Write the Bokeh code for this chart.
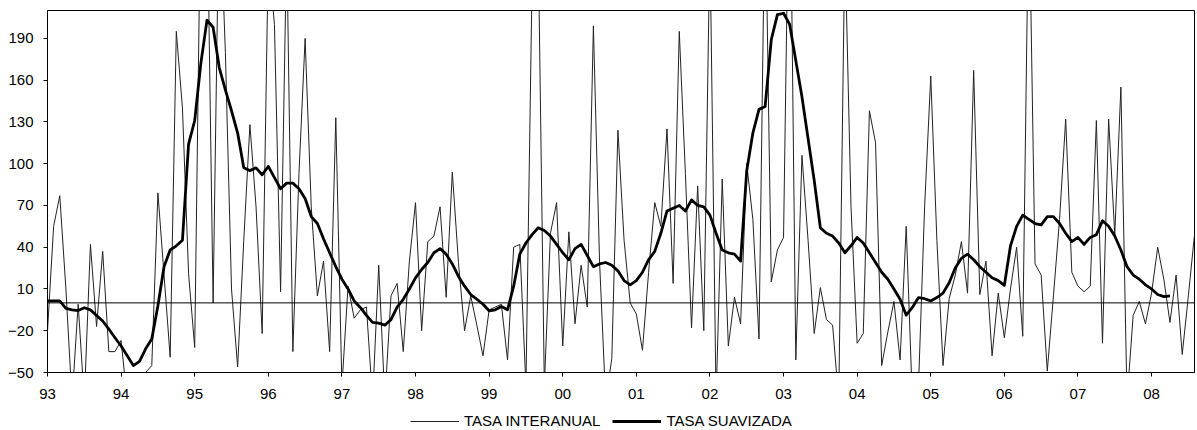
from bokeh.plotting import figure
from bokeh.layouts import column
from bokeh.models import ColumnDataSource, Range1d, FixedTicker, Span, Legend, LegendItem
from bokeh.embed import file_html
from bokeh.resources import INLINE

# Monthly data, Jan 1993 .. Aug 2008
year_labels = ["93", "94", "95", "96", "97", "98", "99", "00",
               "01", "02", "03", "04", "05", "06", "07", "08"]

tasa_interanual = [
    -20, 55, 77, 10, -70, -1, -70, 42, -17, 37, -35, -35,          # 93
    -27, -70, -60, -52, -50, -45, 79, 20, -39, 195, 140, 21,       # 94
    -32, 300, 300, 0, 300, 180, 10, -46, 45, 128, 69, -22,         # 95
    250, 200, 8, 260, -35, 93, 190, 69, 5, 30, -35, 133,           # 96
    -60, 12, -11, -5, -3, -70, 27, -70, 5, 14, -35, 30,            # 97
    72, -20, 44, 48, 69, 4, 94, 29, -20, 5, -16, -38,              # 98
    -5, -3, -1, -41, 40, 42, -60, 230, 260, -60, 50, 72,           # 99
    -31, 51, -15, 27, -3, 199, 30, -70, -40, 124, 45, 0,           # 00
    -8, -34, 22, 72, 55, 125, 14, 195, 93, -18, 84, -20,           # 01
    260, -70, 89, -31, 4, -15, 100, 60, -26, 300, 15, 38,          # 02
    47, 350, -41, 106, 45, -22, 11, -12, -16, -70, 260, 69,        # 03
    -29, -22, 138, 115, -45, -21, 1, -41, 55, -70, -60, 69,        # 04
    163, 45, -45, 3, 20, 44, 7, 167, 6, 30, -38, 7,                # 05
    -25, 10, 40, -24, 300, 28, 20, -49, 5, 60, 132, 22,            # 06
    12, 8, 12, 131, -29, 132, 49, 155, -70, -9, 1, -15,            # 07
    7, 40, 17, -14, 20, -37, 5, 49,                                # 08
]

nan = float("nan")
tasa_suavizada = [
    1.4, 1.4, 1.4, -4, -5, -5.5, -3.5, -5, -9, -13, -18.8, -25,
    -31, -38, -45, -42, -33, -26, -2, 26, 38, 41, 45, 114,
    131, 172, 203, 198, 169, 153, 138, 122, 97, 95, 97, 92,
    98, 90, 82, 86, 86, 82, 75, 62, 57, 46, 36, 26,
    17, 10, 1.4, -3.3, -9, -14, -14.5, -16, -12, -3, 2.6, 10,
    18, 24, 29, 36, 39, 35, 28, 19, 12, 6, 2.6, -1,
    -5.7, -5, -2.6, -5, 12, 35, 43, 49, 54, 52, 48, 42,
    36, 31, 39, 42, 34, 26, 28, 29, 27, 23, 16, 13,
    16, 22, 31, 37, 50, 66, 68, 70, 66, 74, 70, 69,
    63, 50, 38, 36, 35, 30, 95, 122, 139, 141, 189, 207,
    208, 200, 174, 148, 118, 88, 54, 50, 48, 43, 36, 41,
    47, 43, 36, 29, 22, 17, 10, 2.6, -8.8, -3.3, 3.8, 3,
    1.4, 3.8, 7, 14.5, 25, 32, 35, 31, 26, 22, 18, 16,
    12.6, 41, 55, 63, 60, 57, 56, 62, 62, 57, 50, 44,
    47, 42, 47, 49, 59, 55, 48, 38, 26, 20, 17, 13,
    10, 6, 4.5, 5, nan, nan, nan, nan,
]

series_labels = ["TASA INTERANUAL", "TASA SUAVIZADA"]
y_ticks = [-50, -20, 10, 40, 70, 100, 130, 160, 190]

months = list(range(len(tasa_interanual)))
src = ColumnDataSource(dict(x=months, thin=tasa_interanual, thick=tasa_suavizada))

THIN = dict(line_color="#222222", line_width=1)
THICK = dict(line_color="black", line_width=2.8, line_join="round")

p = figure(frame_width=1147, frame_height=362,
           output_backend="svg", toolbar_location=None,
           x_range=Range1d(0, len(months) - 1), y_range=Range1d(-50, 210),
           min_border_left=47, min_border_right=3, min_border_top=10, min_border_bottom=0)

p.outline_line_color = "black"
p.outline_line_width = 1
p.outline_line_alpha = 1
p.xgrid.visible = False
p.ygrid.visible = False
p.background_fill_color = "white"
p.border_fill_color = "white"

zero = Span(location=0, dimension="width", line_color="black", line_width=1)
p.add_layout(zero)

p.line("x", "thin", source=src, **THIN)
p.line("x", "thick", source=src, **THICK)

font = "Liberation Sans"
p.xaxis.ticker = FixedTicker(ticks=[12 * i for i in range(len(year_labels))])
p.xaxis.major_label_overrides = {12 * i: lab for i, lab in enumerate(year_labels)}
p.yaxis.ticker = FixedTicker(ticks=y_ticks)
for ax in (p.xaxis[0], p.yaxis[0]):
    ax.major_tick_in = 0
    ax.major_tick_out = 4
    ax.minor_tick_in = 0
    ax.minor_tick_out = 0
    ax.axis_line_color = "black"
    ax.major_tick_line_color = "black"
    ax.major_label_text_font = font
    ax.major_label_text_font_size = "15px"
    ax.major_label_text_color = "black"
p.xaxis.major_label_standoff = 12
p.yaxis.major_label_standoff = 10

# Legend strip below the chart (legend-only figure, nothing drawn in it)
lg = figure(width=1197, height=31, output_backend="svg", toolbar_location=None,
            x_range=Range1d(0, 1), y_range=Range1d(0, 1),
            min_border_left=0, min_border_right=0, min_border_top=0, min_border_bottom=0)
lg.axis.visible = False
lg.xgrid.visible = False
lg.ygrid.visible = False
lg.outline_line_color = None
lg.background_fill_color = "white"
lg.border_fill_color = "white"
k_thin = lg.line([nan], [nan], **THIN)
k_thick = lg.line([nan], [nan], **THICK)

legend = Legend(items=[LegendItem(label=series_labels[0], renderers=[k_thin]),
                       LegendItem(label=series_labels[1], renderers=[k_thick])],
                orientation="horizontal", location=(363, 3),
                label_text_font=font, label_text_font_size="15px",
                label_text_color="black", label_height=14,
                glyph_width=49, glyph_height=14, label_standoff=5, spacing=12,
                padding=0, margin=0, border_line_color=None,
                background_fill_alpha=0)
lg.add_layout(legend)

layout = column(p, lg, spacing=0)
open("out.html", "w").write(file_html(layout, INLINE))
